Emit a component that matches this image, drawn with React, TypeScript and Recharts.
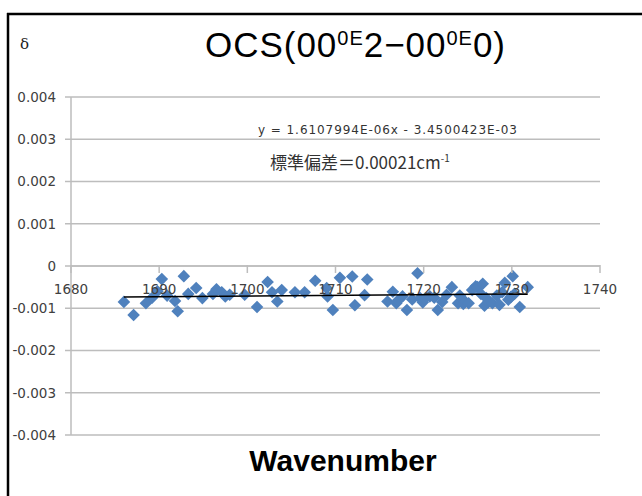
import React from 'react';
import { ScatterChart, Scatter, XAxis, YAxis, CartesianGrid, ReferenceLine } from 'recharts';

const wavenumber = [
  1686.0, 1687.1, 1688.5, 1689.2, 1689.8, 1690.3, 1690.9, 1691.8, 1692.1, 1692.8,
  1693.3, 1694.2, 1694.9, 1696.1, 1696.5, 1697.1, 1697.5, 1698.0, 1699.7, 1701.1,
  1702.3, 1702.8, 1703.4, 1703.9, 1705.4, 1706.5, 1707.7, 1709.0, 1709.1, 1709.7,
  1710.5, 1711.9, 1712.2, 1713.3, 1713.6, 1715.9, 1716.5, 1716.9, 1717.1, 1717.6,
  1718.1, 1718.7, 1719.3, 1719.6, 1719.9, 1720.1, 1720.7, 1721.2, 1721.6, 1722.1,
  1722.6, 1723.2, 1723.9, 1724.1, 1724.5, 1724.7, 1725.1, 1725.5, 1725.9, 1726.1,
  1726.5, 1726.7, 1726.9, 1727.1, 1727.3, 1727.8, 1728.3, 1728.6, 1728.9, 1729.2,
  1729.6, 1729.9, 1730.1, 1730.3, 1730.9, 1731.8,
];
const delta = [
  -0.00085, -0.00116, -0.00088, -0.00075, -0.0006, -0.00031, -0.0007, -0.00083, -0.00107, -0.00024,
  -0.00066, -0.00052, -0.00076, -0.00066, -0.00055, -0.00062, -0.00072, -0.00068, -0.00068, -0.00097,
  -0.00038, -0.00062, -0.00084, -0.00057, -0.00062, -0.00062, -0.00035, -0.00052, -0.00072, -0.00104,
  -0.00028, -0.00025, -0.00093, -0.00069, -0.00032, -0.00084, -0.00061, -0.00088, -0.00081, -0.00072,
  -0.00104, -0.00079, -0.00017, -0.00076, -0.00086, -0.00078, -0.00072, -0.00075, -0.00104, -0.00085,
  -0.00068, -0.0005, -0.00088, -0.0007, -0.0009, -0.00084, -0.00088, -0.00057, -0.00048, -0.0005,
  -0.00066, -0.00042, -0.00094, -0.00076, -0.00086, -0.00088, -0.0007, -0.00092, -0.00062, -0.0004,
  -0.0008, -0.00073, -0.00024, -0.00066, -0.00097, -0.0005,
];
const xTicks = [1680, 1690, 1700, 1710, 1720, 1730, 1740];
const yTicks = [-0.004, -0.003, -0.002, -0.001, 0, 0.001, 0.002, 0.003, 0.004];
const slope = 1.6107994e-6;
const intercept = -3.4500423e-3;

const points = wavenumber.map((x, i) => ({ x, y: delta[i] }));
const xFirst = wavenumber[0];
const xLast = wavenumber[wavenumber.length - 1];
const trend = [
  { x: xFirst, y: slope * xFirst + intercept },
  { x: xLast, y: slope * xLast + intercept },
];

const W = 642;
const H = 496;
const margin = { top: 97, right: 42, bottom: 31, left: 0 };
const xAxisHeight = 30;
const plotHeight = H - margin.top - margin.bottom - xAxisHeight;
const yMin = -0.004;
const yMax = 0.004;
const zeroOffset = (plotHeight * (0 - yMin)) / (yMax - yMin);
const GRAY = '#bdbdbd';
const TICK_FONT = { fontFamily: 'DejaVu Sans', fontSize: 13.5, fill: '#404040' };

const Diamond = (props: any) => {
  const { cx, cy } = props;
  const r = 6.3;
  return (
    <polygon
      points={`${cx},${cy - r} ${cx + r},${cy} ${cx},${cy + r} ${cx - r},${cy}`}
      fill="#4f81bd"
    />
  );
};

const XTick = (props: any) => {
  const { x, y, payload } = props;
  const ay = y - zeroOffset;
  return (
    <g>
      <line x1={x} y1={ay - 1} x2={x} y2={ay + 7} stroke={GRAY} strokeWidth={1.5} />
      <text x={x} y={ay + 28} textAnchor="middle" {...TICK_FONT}>
        {payload.value}
      </text>
    </g>
  );
};

export default function App() {
  return (
    <div style={{ position: 'absolute', left: 0, top: 0, width: W, height: H, background: '#fff', overflow: 'hidden' }}>
      <ScatterChart width={W} height={H} margin={margin}>
        <CartesianGrid horizontal vertical={false} stroke={GRAY} strokeWidth={1.5} />
        <XAxis
          type="number"
          dataKey="x"
          domain={[1680, 1740]}
          ticks={xTicks}
          height={xAxisHeight}
          axisLine={false}
          tickLine={false}
          tickSize={0}
          tickMargin={0}
          tick={<XTick />}
          interval={0}
        />
        <YAxis
          type="number"
          dataKey="y"
          domain={[yMin, yMax]}
          ticks={yTicks}
          width={71}
          interval={0}
          axisLine={{ stroke: GRAY, strokeWidth: 1.5 }}
          tickLine={{ stroke: GRAY, strokeWidth: 1.5 }}
          tickSize={6}
          tickMargin={9}
          tickFormatter={(v: number) => String(v)}
          tick={TICK_FONT}
        />
        <ReferenceLine y={0} stroke={GRAY} strokeWidth={1.5} />
        <Scatter data={points} shape={<Diamond />} isAnimationActive={false} />
        <Scatter
          data={trend}
          line={{ stroke: '#000', strokeWidth: 1.5 }}
          shape={() => null}
          isAnimationActive={false}
        />
      </ScatterChart>
      <svg width={W} height={H} style={{ position: 'absolute', left: 0, top: 0, pointerEvents: 'none' }}>
        <line x1={7} y1={14} x2={W} y2={14} stroke="#000" strokeWidth={2.5} />
        <line x1={8} y1={13} x2={8} y2={H} stroke="#000" strokeWidth={2.5} />
        <text x={20} y={49} fontFamily="DejaVu Serif" fontSize={15} fill="#222">δ</text>
        <text x={205} y={57} fontFamily="Liberation Sans" fontSize={35} fill="#000" textLength={300} lengthAdjust="spacing">
          OCS(00<tspan fontSize={20} dy={-12}>0E</tspan><tspan dy={12}>2−00</tspan><tspan fontSize={20} dy={-12}>0E</tspan><tspan dy={12}>0)</tspan>
        </text>
        <text x={258} y={134} fontFamily="DejaVu Sans" fontSize={12} fill="#333" textLength={259} lengthAdjust="spacing">
          y = 1.6107994E-06x - 3.4500423E-03
        </text>
        <text x={270} y={169} fontFamily="Noto Sans CJK JP" fontSize={17} fill="#333">
          標準偏差＝0.00021cm<tspan fontSize={10} dy={-7}>-1</tspan>
        </text>
        <text x={343} y={471} textAnchor="middle" fontFamily="Liberation Sans" fontWeight="bold" fontSize={30} fill="#000">
          Wavenumber
        </text>
      </svg>
    </div>
  );
}
